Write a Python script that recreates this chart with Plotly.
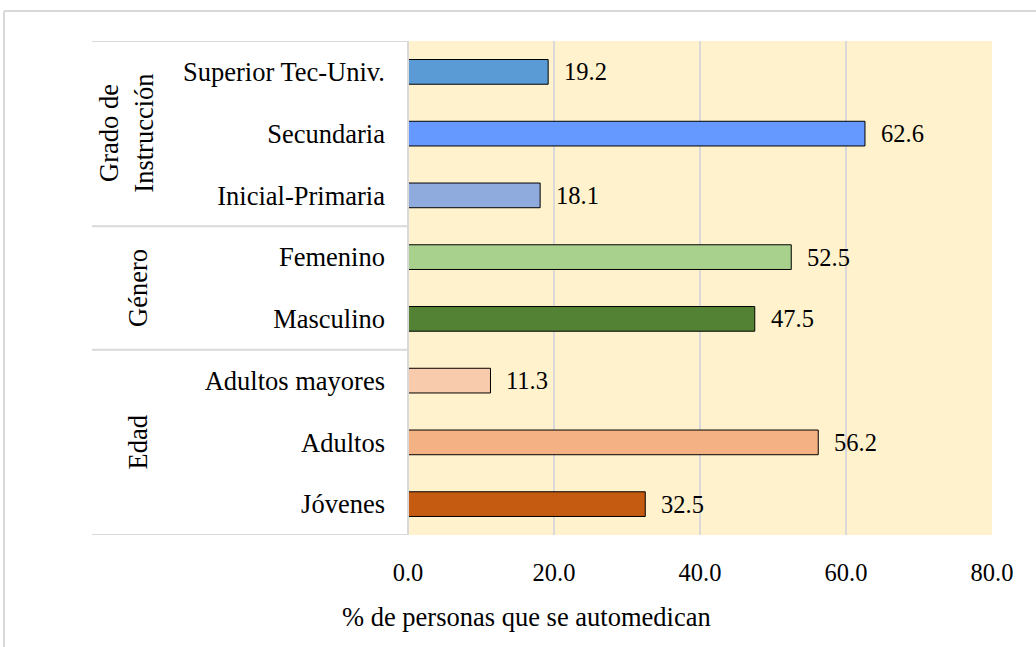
import plotly.graph_objects as go

categories = ["Jóvenes", "Adultos", "Adultos mayores", "Masculino", "Femenino",
              "Inicial-Primaria", "Secundaria", "Superior Tec-Univ."]
values = [32.5, 56.2, 11.3, 47.5, 52.5, 18.1, 62.6, 19.2]
colors = ["#C55A11", "#F4B183", "#F8CBAD", "#548235", "#A9D18E",
          "#8FAADC", "#6699FF", "#5B9BD5"]
groups = ["Edad", "Género", "Grado de<br>Instrucción"]
group_spans = [(0, 2), (3, 4), (5, 7)]
x_ticks = [0, 20, 40, 60, 80]
x_title = "% de personas que se automedican"

FONT = "Liberation Serif, Times New Roman, serif"
FS_TEXT = 26.5
FS_NUM = 24.5
ypos = list(range(len(categories)))

fig = go.Figure()
fig.add_trace(go.Bar(
    x=values, y=ypos, orientation="h", width=0.4,
    marker=dict(color=colors, line=dict(color="#000000", width=1)),
    showlegend=False, hoverinfo="x+y",
))

W, H = 1036, 647
L, R, T, B = 408, 44, 41, 112
pw, ph = W - L - R, H - T - B

def px_to_paper_x(px):
    return (px - L) / pw

def px_to_paper_y(py):
    return (H - B - py) / ph

shapes = []
grey = "#D9D9D9"
x_left = px_to_paper_x(92)
for yb in [-0.5, 2.5, 4.5, 7.5]:
    shapes.append(dict(type="line", xref="paper", yref="y", x0=x_left, x1=0,
                       y0=yb, y1=yb, line=dict(color=grey, width=2), layer="above"))
shapes.append(dict(type="line", xref="paper", yref="paper", x0=0, x1=0, y0=0, y1=1,
                   line=dict(color=grey, width=2), layer="above"))
shapes.append(dict(type="line", xref="paper", yref="paper",
                   x0=px_to_paper_x(4), x1=px_to_paper_x(1040),
                   y0=px_to_paper_y(11), y1=px_to_paper_y(11),
                   line=dict(color=grey, width=2)))
shapes.append(dict(type="line", xref="paper", yref="paper",
                   x0=px_to_paper_x(4), x1=px_to_paper_x(4),
                   y0=px_to_paper_y(11), y1=px_to_paper_y(650),
                   line=dict(color=grey, width=2)))

group_x_px = [138, 138, 126]
annotations = []
for g, (a, b), gx in zip(groups, group_spans, group_x_px):
    annotations.append(dict(text=g, xref="paper", yref="y", x=px_to_paper_x(gx),
                            y=(a + b) / 2, showarrow=False, textangle=-90,
                            font=dict(family=FONT, size=FS_TEXT, color="#000000"),
                            xanchor="center", yanchor="middle"))
for v, yp in zip(values, ypos):
    annotations.append(dict(text=f"{v:.1f}", x=v, y=yp, xref="x", yref="y",
                            showarrow=False, xanchor="left", yanchor="middle",
                            xshift=14, font=dict(family=FONT, size=FS_NUM, color="#000000")))
annotations.append(dict(text=x_title, xref="paper", yref="paper",
                        x=px_to_paper_x(526), y=px_to_paper_y(617),
                        xanchor="center", yanchor="middle", showarrow=False,
                        font=dict(family=FONT, size=FS_TEXT, color="#000000")))

fig.update_layout(
    width=W, height=H,
    margin=dict(l=L, r=R, t=T, b=B),
    paper_bgcolor="#FFFFFF", plot_bgcolor="#FFF2CC",
    font=dict(family=FONT, size=FS_NUM, color="#000000"),
    shapes=shapes, annotations=annotations,
)
fig.update_xaxes(range=[0, 80], tickvals=x_ticks, ticktext=[f"{v:.1f}" for v in x_ticks],
                 tickfont=dict(size=FS_NUM),
                 showgrid=True, gridcolor=grey, gridwidth=2, zeroline=False,
                 showline=False, ticklabelstandoff=20)
fig.update_yaxes(range=[-0.5, 7.5], tickvals=ypos, ticktext=categories,
                 tickfont=dict(size=FS_TEXT),
                 showgrid=False, zeroline=False, showline=False,
                 ticklabelstandoff=22)

fig.write_html("out.html", config={"displayModeBar": False},
               post_script="document.body.style.margin='0';")
